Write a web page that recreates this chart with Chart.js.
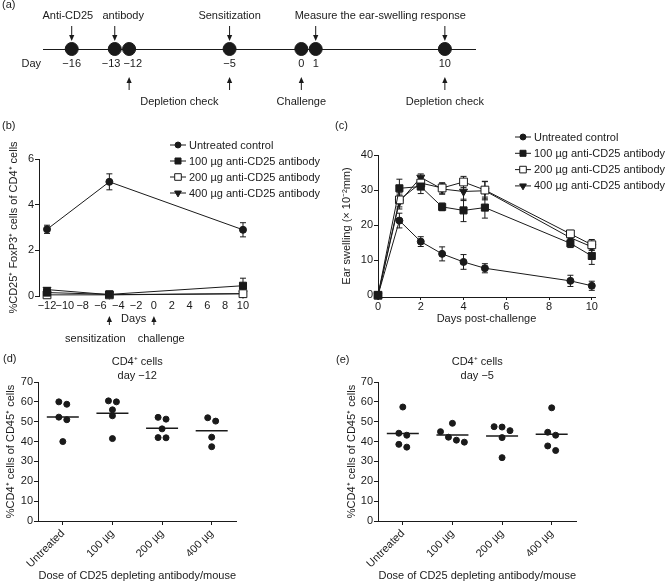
<!DOCTYPE html>
<html>
<head>
<meta charset="utf-8">
<script src="https://cdn.jsdelivr.net/npm/chart.js@4.4.1/dist/chart.umd.min.js"></script>
<style>
  body { margin: 0; background: #fff; }
  #fig { position: relative; width: 666px; height: 583px; overflow: hidden;
         font-family: "Liberation Sans", Arial, Helvetica, sans-serif; font-size: 11px; color: #1a1a1a; }
  #fig canvas { position: absolute; }
  .tag { position: absolute; line-height: 13px; }
</style>
</head>
<body>
<div id="fig">
  <canvas id="panelA"></canvas>
  <canvas id="panelB"></canvas>
  <canvas id="panelC"></canvas>
  <canvas id="panelD"></canvas>
  <canvas id="panelE"></canvas>
  <div class="tag" style="left:2px;top:-2px">(a)</div>
  <div class="tag" style="left:2px;top:119px">(b)</div>
  <div class="tag" style="left:335px;top:119px">(c)</div>
  <div class="tag" style="left:3px;top:352px">(d)</div>
  <div class="tag" style="left:336px;top:353px">(e)</div>
</div>
<script>
// (a) protocol timeline
var timelineDays = [-16, -13, -12, -5, 0, 1, 10];
var topNotes = [
  { text: "Anti-CD25   antibody", days: [-16, -13] },
  { text: "Sensitization", days: [-5] },
  { text: "Measure the ear-swelling response", days: [1, 10] }
];
var bottomNotes = [
  { text: "Depletion check", days: [-12, -5] },
  { text: "Challenge", days: [0] },
  { text: "Depletion check", days: [10] }
];

// (b) CD25+ FoxP3+ cells
var seriesNames = ["Untreated control", "100 \u00b5g anti-CD25 antibody", "200 \u00b5g anti-CD25 antibody", "400 \u00b5g anti-CD25 antibody"];
var daysB = [-12, -5, 10];
var foxUntreated = [2.92, 5.0, 2.9];
var foxUntreatedErr = [0.18, 0.35, 0.31];
var fox100 = [0.15, 0.07, 0.45];
var fox100Err = [0.15, 0.04, 0.33];
var fox200 = [0.05, 0.05, 0.1];
var fox200Err = [0.04, 0.03, 0.03];
var fox400 = [0.28, 0.06, 0.1];
var fox400Err = [0.08, 0.03, 0.03];
var ticksDaysB = [-12, -10, -8, -6, -4, -2, 0, 2, 4, 6, 8, 10];
var ticksFox = [0, 2, 4, 6];
var eventsB = [{ text: "sensitization", day: -5 }, { text: "challenge", day: 0 }];

// (c) ear swelling
var daysC = [0, 1, 2, 3, 4, 5, 9, 10];
var swellUntreated = [0, 21.3, 15.3, 11.8, 9.5, 7.7, 4.1, 2.7];
var swellUntreatedErr = [0, 2.1, 1.4, 2.0, 2.1, 1.3, 1.6, 1.3];
var swell100 = [0, 30.5, 31.0, 25.2, 24.2, 25.0, 14.8, 11.2];
var swell100Err = [0, 2.6, 2.0, 1.1, 3.2, 3.0, 1.2, 2.4];
var swell200 = [0, 27.2, 32.0, 30.6, 32.3, 30.0, 17.5, 14.4];
var swell200Err = [0, 2.0, 1.5, 1.5, 1.6, 2.5, 1.0, 1.5];
var swell400 = [0, 26.6, 33.6, 30.3, 29.6, 29.8, 16.4, 13.8];
var swell400Err = [0, 2.0, 1.0, 1.5, 2.6, 2.6, 1.0, 1.0];
var ticksDaysC = [0, 2, 4, 6, 8, 10];
var ticksSwell = [0, 10, 20, 30, 40];

// (d), (e) CD4+ cells per mouse
var doseLabels = ["Untreated", "100 \u00b5g", "200 \u00b5g", "400 \u00b5g"];
var cd4DayMinus12 = [
  [60, 58.8, 52.3, 51, 40],
  [60.5, 60, 56, 53, 41.5],
  [52.2, 51.3, 46.4, 42, 41.9],
  [52, 50.3, 42.2, 37.4]
];
var cd4DayMinus5 = [
  [57.4, 44.2, 43.2, 38.6, 37.2],
  [49.2, 45, 42.2, 40.7, 39.7],
  [47.5, 47.3, 45.5, 42, 31.9],
  [57, 44.7, 43.2, 37.8, 35.5]
];
var ticksCd4 = [0, 10, 20, 30, 40, 50, 60, 70];


var ink = "#1a1a1a";
var fontFamily = '"Liberation Sans", Arial, Helvetica, sans-serif';
var font11 = "11px " + fontFamily;

Chart.defaults.font.family = fontFamily;
Chart.defaults.font.size = 11;
Chart.defaults.color = ink;
Chart.defaults.animation = false;
Chart.defaults.events = [];
Chart.defaults.plugins.legend.display = false;
Chart.defaults.plugins.tooltip.enabled = false;

function minusSign(v) {
  return String(v).replace("-", "\u2212");
}

function mean(arr) {
  var s = 0;
  arr.forEach(function (v) { s += v; });
  return s / arr.length;
}

function arrow(ctx, x, from, to) {
  var dir = to > from ? 1 : -1;
  ctx.beginPath();
  ctx.moveTo(x, from);
  ctx.lineTo(x, to - dir * 5);
  ctx.stroke();
  ctx.beginPath();
  ctx.moveTo(x - 2.6, to - dir * 6);
  ctx.lineTo(x + 2.6, to - dir * 6);
  ctx.lineTo(x, to);
  ctx.closePath();
  ctx.fill();
}

// marker looks for the four groups
var looks = [
  { pointStyle: "circle", pointRadius: 3.5, pointBackgroundColor: ink },
  { pointStyle: "rect", pointRadius: 5, pointBackgroundColor: ink },
  { pointStyle: "rect", pointRadius: 5.5, pointBackgroundColor: "#fff" },
  { pointStyle: "triangle", pointRadius: 4.6, pointRotation: 180, pointBackgroundColor: ink }
];

function series(i, xs, ys, errs) {
  return Object.assign({
    label: seriesNames[i],
    data: xs.map(function (x, j) { return { x: x, y: ys[j] }; }),
    errors: errs,
    showLine: true,
    borderColor: ink,
    borderWidth: 1,
    pointBorderColor: ink,
    pointBorderWidth: 1,
    clip: false
  }, looks[i]);
}

function fixedTicks(vals) {
  return function (s) {
    s.ticks = vals.map(function (v) { return { value: v }; });
  };
}

function yAxis(min, max, vals, title) {
  return {
    type: "linear", min: min, max: max,
    afterBuildTicks: fixedTicks(vals),
    border: { display: true, color: ink, width: 1 },
    grid: { display: true, drawOnChartArea: false, drawTicks: true, tickLength: 4, color: ink },
    ticks: { padding: 1, color: ink, callback: minusSign },
    title: { display: true, text: title, padding: 0, color: ink }
  };
}

function makeChart(id, box, area, xHeight, datasets, scales, pluginOpts, plugins) {
  var c = document.getElementById(id);
  c.width = box.w;
  c.height = box.h;
  c.style.left = box.x + "px";
  c.style.top = box.y + "px";
  var yShown = scales.y.display !== false;
  scales.x.afterFit = function (s) { s.height = xHeight; };
  if (yShown) scales.y.afterFit = function (s) { s.width = area.l - box.x; };
  return new Chart(c, {
    type: "scatter",
    data: { datasets: datasets },
    options: {
      responsive: false,
      devicePixelRatio: 1,
      layout: { padding: {
        left: yShown ? 0 : area.l - box.x,
        top: area.t - box.y,
        right: box.x + box.w - area.r,
        bottom: box.y + box.h - area.b - xHeight
      } },
      scales: scales,
      plugins: pluginOpts || {}
    },
    plugins: plugins || []
  });
}

// ---------- plugins ----------
var errorBars = {
  id: "errorBars",
  beforeDatasetsDraw: function (chart) {
    var ctx = chart.ctx, y = chart.scales.y;
    ctx.save();
    ctx.strokeStyle = ink;
    ctx.lineWidth = 1;
    chart.data.datasets.forEach(function (ds, i) {
      if (!ds.errors) return;
      chart.getDatasetMeta(i).data.forEach(function (pt, j) {
        var e = ds.errors[j];
        if (!e) return;
        var v = ds.data[j].y;
        var top = y.getPixelForValue(v + e), bot = y.getPixelForValue(v - e);
        ctx.beginPath();
        ctx.moveTo(pt.x, top); ctx.lineTo(pt.x, bot);
        ctx.moveTo(pt.x - 3, top); ctx.lineTo(pt.x + 3, top);
        ctx.moveTo(pt.x - 3, bot); ctx.lineTo(pt.x + 3, bot);
        ctx.stroke();
      });
    });
    ctx.restore();
  }
};

var seriesLegend = {
  id: "seriesLegend",
  afterDraw: function (chart, args, opts) {
    var ctx = chart.ctx, a = chart.chartArea;
    ctx.save();
    ctx.font = font11;
    ctx.textBaseline = "middle";
    ctx.textAlign = "left";
    chart.data.datasets.forEach(function (ds, i) {
      var x0 = a.left + opts.dx, y = a.top + opts.dy + i * opts.rowHeight;
      ctx.strokeStyle = ink;
      ctx.lineWidth = 1;
      ctx.beginPath(); ctx.moveTo(x0, y); ctx.lineTo(x0 + 16, y); ctx.stroke();
      ctx.fillStyle = ds.pointBackgroundColor;
      Chart.helpers.drawPoint(ctx, {
        pointStyle: ds.pointStyle, radius: ds.pointRadius * 0.85,
        rotation: ds.pointRotation || 0, borderWidth: 1
      }, x0 + 8, y);
      ctx.fillStyle = ink;
      ctx.fillText(ds.label, x0 + 19, y + 0.5);
    });
    ctx.restore();
  }
};

var timelineNotes = {
  id: "timelineNotes",
  afterDatasetsDraw: function (chart) {
    var ctx = chart.ctx, x = chart.scales.x, a = chart.chartArea, axisY = a.bottom;
    ctx.save();
    ctx.fillStyle = ink;
    ctx.strokeStyle = ink;
    ctx.lineWidth = 1;
    ctx.font = font11;
    ctx.textBaseline = "middle";
    ctx.textAlign = "center";
    topNotes.forEach(function (n) {
      var xs = n.days.map(function (d) { return x.getPixelForValue(d); });
      xs.forEach(function (px) { arrow(ctx, px, axisY - 23, axisY - 8); });
      ctx.fillText(n.text, mean(xs), axisY - 33);
    });
    bottomNotes.forEach(function (n) {
      var xs = n.days.map(function (d) { return x.getPixelForValue(d); });
      xs.forEach(function (px) { arrow(ctx, px, axisY + 41, axisY + 28); });
      ctx.fillText(n.text, mean(xs), axisY + 53);
    });
    // day numbers, pushed apart where they would collide
    var labels = timelineDays.map(function (d) {
      var t = minusSign(d);
      return { t: t, x: x.getPixelForValue(d), w: ctx.measureText(t).width };
    });
    for (var i = 1; i < labels.length; i++) {
      var p = labels[i - 1], c = labels[i];
      var over = (p.x + p.w / 2 + 3) - (c.x - c.w / 2);
      if (over > 0) { p.x -= over / 2; c.x += over / 2; }
    }
    labels.forEach(function (l) { ctx.fillText(l.t, l.x, axisY + 15); });
    ctx.textAlign = "right";
    ctx.fillText("Day", a.left - 2, axisY + 15);
    ctx.restore();
  }
};

// arrows under panel (b), with the axis title "Days" set between them
var eventArrows = {
  id: "eventArrows",
  afterDraw: function (chart, args, opts) {
    var ctx = chart.ctx, x = chart.scales.x, b = chart.chartArea.bottom;
    var xs = eventsB.map(function (e) { return x.getPixelForValue(e.day); });
    var mid = mean(xs);
    ctx.save();
    ctx.fillStyle = ink;
    ctx.strokeStyle = ink;
    ctx.lineWidth = 1;
    ctx.font = font11;
    ctx.textBaseline = "middle";
    xs.forEach(function (px) { arrow(ctx, px, b + 29, b + 20); });
    ctx.textAlign = "center";
    ctx.fillText(opts.axisTitle, mid + 2, b + 23);
    ctx.textAlign = "right";
    ctx.fillText(eventsB[0].text, mid - 6, b + 43);
    ctx.textAlign = "left";
    ctx.fillText(eventsB[1].text, mid + 6, b + 43);
    ctx.restore();
  }
};

var panelTitle = {
  id: "panelTitle",
  afterDraw: function (chart, args, opts) {
    var ctx = chart.ctx, a = chart.chartArea;
    ctx.save();
    ctx.fillStyle = ink;
    ctx.font = font11;
    ctx.textAlign = "center";
    ctx.textBaseline = "middle";
    opts.lines.forEach(function (t, i) {
      ctx.fillText(t, (a.left + a.right) / 2, a.top - 20 + i * 14);
    });
    ctx.restore();
  }
};

// ---------- (a) ----------
makeChart("panelA", { x: 0, y: 0, w: 666, h: 130 }, { l: 43, r: 475, t: 9, b: 49 }, 81,
  [{
    data: timelineDays.map(function (d) { return { x: d, y: 0 }; }),
    pointRadius: 6.5, pointBackgroundColor: ink, pointBorderColor: ink, clip: false
  }],
  {
    x: { type: "linear", min: -18, max: 12.1,
         border: { display: true, color: ink, width: 1 },
         grid: { display: false, drawTicks: false },
         ticks: { display: false } },
    y: { type: "linear", min: 0, max: 1, display: false }
  },
  {}, [timelineNotes]);

// ---------- (b) ----------
makeChart("panelB", { x: 7, y: 135, w: 323, h: 215 }, { l: 39, r: 247, t: 159, b: 296 }, 30,
  [
    series(0, daysB, foxUntreated, foxUntreatedErr),
    series(1, daysB, fox100, fox100Err),
    series(2, daysB, fox200, fox200Err),
    series(3, daysB, fox400, fox400Err)
  ],
  {
    x: { type: "linear", min: -12.9, max: 10.45,
         afterBuildTicks: fixedTicks(ticksDaysB),
         border: { display: false },
         grid: { display: false, drawTicks: false },
         ticks: { padding: 3, autoSkip: false, maxRotation: 0, color: ink, callback: minusSign } },
    y: yAxis(0, 6, ticksFox, "%CD25\u207a FoxP3\u207a cells of CD4\u207a cells")
  },
  { seriesLegend: { dx: 131, dy: -14, rowHeight: 16 }, eventArrows: { axisTitle: "Days" } },
  [errorBars, seriesLegend, eventArrows]);

// ---------- (c) ----------
makeChart("panelC", { x: 340, y: 130, w: 326, h: 196 }, { l: 378, r: 595, t: 155, b: 297 }, 29,
  [
    series(0, daysC, swellUntreated, swellUntreatedErr),
    series(1, daysC, swell100, swell100Err),
    series(2, daysC, swell200, swell200Err),
    series(3, daysC, swell400, swell400Err)
  ],
  {
    x: { type: "linear", min: 0, max: 10.15,
         afterBuildTicks: fixedTicks(ticksDaysC),
         border: { display: true, color: ink, width: 1 },
         grid: { display: true, drawOnChartArea: false, tickLength: 3, color: ink },
         ticks: { padding: 0, autoSkip: false, maxRotation: 0, color: ink },
         title: { display: true, text: "Days post-challenge", padding: 0, color: ink } },
    y: yAxis(-0.5, 40, ticksSwell, "Ear swelling (\u00d7 10\u207b\u00b2mm)")
  },
  { seriesLegend: { dx: 137, dy: -18, rowHeight: 16.3 } },
  [errorBars, seriesLegend]);

// ---------- (d), (e) ----------
function swarm(groups) {
  var pts = [];
  groups.forEach(function (vals, g) {
    var order = vals.slice().sort(function (a, b) { return b - a; });
    var cluster = [];
    var flush = function () {
      cluster.forEach(function (v, k) {
        pts.push({ x: g + (k - (cluster.length - 1) / 2) * 0.16, y: v });
      });
      cluster = [];
    };
    order.forEach(function (v) {
      if (cluster.length && cluster[cluster.length - 1] - v >= 2.9) flush();
      cluster.push(v);
    });
    flush();
  });
  return pts;
}

function dotPanel(id, box, area, groups, titleLines) {
  makeChart(id, box, area, 62,
    [
      { data: swarm(groups), pointRadius: 3, pointBackgroundColor: ink, pointBorderColor: ink, clip: false },
      { data: groups.map(function (vals, g) { return { x: g, y: mean(vals) }; }),
        pointStyle: "line", pointRadius: 16, pointBorderWidth: 1.5,
        borderColor: ink, pointBorderColor: ink, clip: false }
    ],
    {
      x: { type: "linear", min: -0.5, max: 3.5,
           afterBuildTicks: fixedTicks(doseLabels.map(function (l, i) { return i; })),
           border: { display: true, color: ink, width: 1 },
           grid: { display: true, drawOnChartArea: false, tickLength: 4, color: ink },
           ticks: { padding: 2, autoSkip: false, minRotation: 45, maxRotation: 45, color: ink,
                    callback: function (v) { return doseLabels[v]; } },
           title: { display: true, text: "Dose of CD25 depleting antibody/mouse", padding: 0, color: ink } },
      y: yAxis(0, 70, ticksCd4, "%CD4\u207a cells of CD45\u207a cells")
    },
    { panelTitle: { lines: titleLines } },
    [panelTitle]);
}

dotPanel("panelD", { x: 4, y: 350, w: 250, h: 233 }, { l: 38, r: 242, t: 382, b: 521 },
  cd4DayMinus12, ["CD4\u207a cells", "day \u221212"]);
dotPanel("panelE", { x: 345, y: 350, w: 249, h: 233 }, { l: 378, r: 582, t: 382, b: 521 },
  cd4DayMinus5, ["CD4\u207a cells", "day \u22125"]);
</script>
</body>
</html>
